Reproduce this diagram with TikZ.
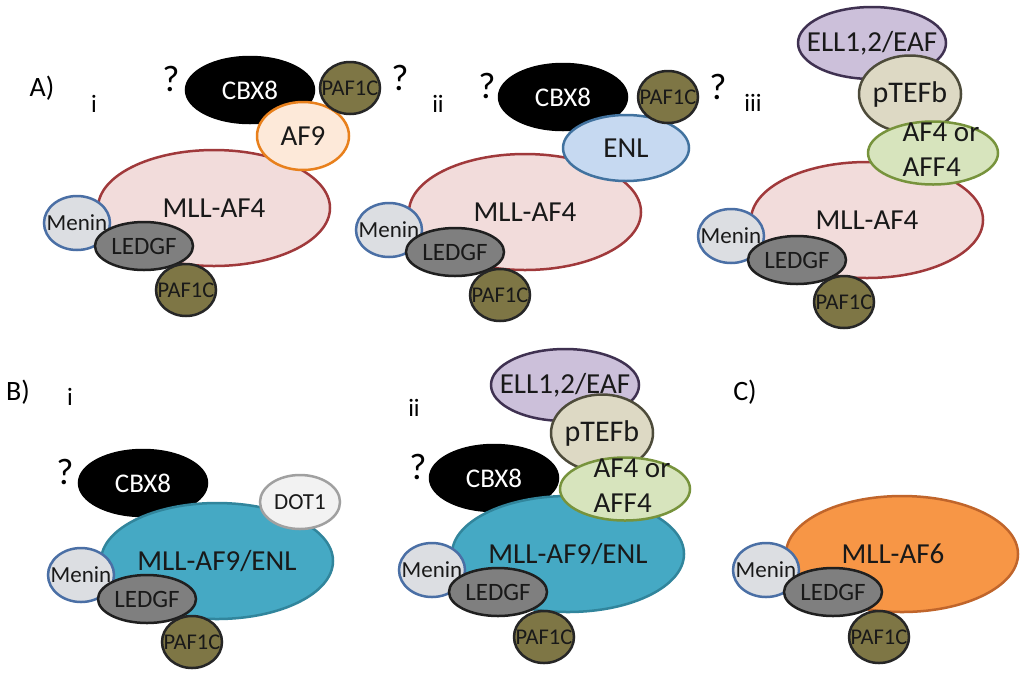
\documentclass[tikz,border=0pt]{standalone}
\usepackage{fontspec}
\setmainfont{Carlito}
\usetikzlibrary{shapes.geometric}
\definecolor{mllF}{HTML}{F2DCDB}\definecolor{mllD}{HTML}{A0393B}
\definecolor{afnF}{HTML}{FDE9D9}\definecolor{afnD}{HTML}{E8801C}
\definecolor{pafF}{HTML}{7E7645}\definecolor{pafD}{HTML}{262626}
\definecolor{menF}{HTML}{DCDEE2}\definecolor{menD}{HTML}{4A6FA5}
\definecolor{ledF}{HTML}{7F7F7F}\definecolor{ledD}{HTML}{1F1F1F}
\definecolor{enlF}{HTML}{C6D9F1}\definecolor{enlD}{HTML}{41729F}
\definecolor{ellF}{HTML}{CCC0DA}\definecolor{ellD}{HTML}{3F3151}
\definecolor{ptfF}{HTML}{DDD9C4}\definecolor{ptfD}{HTML}{4D4B3A}
\definecolor{affF}{HTML}{D7E4BD}\definecolor{affD}{HTML}{77933C}
\definecolor{dotF}{HTML}{F2F2F2}\definecolor{dotD}{HTML}{A0A0A0}
\definecolor{nineF}{HTML}{45A9C4}\definecolor{nineD}{HTML}{31859C}
\definecolor{sixF}{HTML}{F79646}\definecolor{sixD}{HTML}{C0652B}
\tikzset{
  mol/.style={ellipse, draw, line width=2.5pt, inner sep=-22pt, text=black!90,
    font=\fontsize{25}{25}\selectfont},
  big/.style={mol, minimum width=232pt, minimum height=116pt, font=\fontsize{29}{29}\selectfont},
  mllA/.style={big, fill=mllF, draw=mllD},
  mllB/.style={big, fill=nineF, draw=nineD},
  mllC/.style={big, fill=sixF, draw=sixD},
  cbx/.style={mol, fill=black, draw=black, text=white, minimum width=128pt, minimum height=66pt, font=\fontsize{27}{27}\selectfont},
  paf/.style={mol, fill=pafF, draw=pafD, minimum width=60pt, minimum height=52pt, font=\fontsize{22.5}{22.5}\selectfont},
  men/.style={mol, fill=menF, draw=menD, minimum width=66pt, minimum height=54pt, font=\fontsize{23}{23}\selectfont},
  led/.style={mol, fill=ledF, draw=ledD, minimum width=98pt, minimum height=48pt},
  af9/.style={mol, fill=afnF, draw=afnD, minimum width=92pt, minimum height=68pt, font=\fontsize{29}{29}\selectfont},
  enl/.style={mol, fill=enlF, draw=enlD, minimum width=126pt, minimum height=66pt, font=\fontsize{29}{29}\selectfont},
  ell/.style={mol, fill=ellF, draw=ellD, minimum width=148pt, minimum height=72pt, font=\fontsize{29}{29}\selectfont},
  ptf/.style={mol, fill=ptfF, draw=ptfD, minimum width=102pt, minimum height=77pt, font=\fontsize{30}{30}\selectfont},
  aff/.style={mol, fill=affF, draw=affD, minimum width=130pt, minimum height=63pt},
  afftxt/.style={align=left, inner sep=0pt, font=\fontsize{29}{35}\selectfont, text=black!90},
  dot/.style={mol, fill=dotF, draw=dotD, minimum width=80pt, minimum height=54pt, font=\fontsize{23}{23}\selectfont},
  qm/.style={inner sep=0pt, font=\fontsize{37}{37}\selectfont},
  panel/.style={inner sep=0pt, font=\fontsize{28}{28}\selectfont},
  roman/.style={inner sep=0pt, font=\fontsize{25}{25}\selectfont}
}
\begin{document}
\begin{tikzpicture}[x=1pt,y=-1pt]
\useasboundingbox[fill=white] (0,0) rectangle (1024,678);
% ---------- A i
\node[panel] (labA) at (42,88) {A)};
\node[roman] (ai) at (94,104) {i};
\node[mllA] (a1mll) at (214,208) {MLL-AF4};
\node[cbx] (a1cbx) at (250,90) {CBX8};
\node[af9] (a1af9) at (303,136) {AF9};
\node[paf] (a1paft) at (350,88) {PAF1C};
\node[qm] (a1q1) at (171,79) {?};
\node[qm] (a1q2) at (400,78) {?};
\node[men] (a1men) at (77,223) {Menin};
\node[led] (a1led) at (144,246) {LEDGF};
\node[paf] (a1paf) at (186,290) {PAF1C};
% ---------- A ii
\node[roman] (aii) at (438,104) {ii};
\node[mllA] (a2mll) at (525,212) {MLL-AF4};
\node[cbx] (a2cbx) at (563,97) {CBX8};
\node[enl] (a2enl) at (626,148) {ENL};
\node[paf] (a2paft) at (668,97) {PAF1C};
\node[qm] (a2q1) at (487,86) {?};
\node[qm] (a2q2) at (718,87) {?};
\node[men] (a2men) at (389,230) {Menin};
\node[led] (a2led) at (455,252) {LEDGF};
\node[paf] (a2paf) at (500,295) {PAF1C};
% ---------- A iii
\node[roman] (aiii) at (753,103) {iii};
\node[mllA] (a3mll) at (867,220) {MLL-AF4};
\node[ell] (a3ell) at (872,43) {ELL1,2/EAF};
\node[ptf] (a3ptf) at (910,94) {pTEFb};
\node[aff] (a3aff) at (933,153) {};
\node[afftxt] (a3afftxt) at ([xshift=8pt,yshift=3pt]a3aff.center) {AF4 or\\AFF4};
\node[men] (a3men) at (731,236) {Menin};
\node[led] (a3led) at (797,260) {LEDGF};
\node[paf] (a3paf) at (844,302) {PAF1C};
% ---------- B i
\node[panel] (labB) at (18,392) {B)};
\node[roman] (bi) at (70,397) {i};
\node[qm] (b1q) at (65,472) {?};
\node[cbx] (b1cbx) at (143,483) {CBX8};
\node[mllB] (b1mll) at (217,561) {MLL-AF9/ENL};
\node[dot] (b1dot) at (300,502) {DOT1};
\node[men] (b1men) at (81,575) {Menin};
\node[led] (b1led) at (147,599) {LEDGF};
\node[paf] (b1paf) at (192,642) {PAF1C};
% ---------- B ii
\node[roman] (bii) at (414,408) {ii};
\node[ell] (b2ell) at (565,385) {ELL1,2/EAF};
\node[ptf] (b2ptf) at (602,433) {pTEFb};
\node[qm] (b2q) at (418,467) {?};
\node[cbx] (b2cbx) at (494,478) {CBX8};
\node[mllB] (b2mll) at (568,554) {MLL-AF9/ENL};
\node[aff] (b2aff) at (625,489) {};
\node[afftxt] (b2afftxt) at ([xshift=7pt,yshift=3pt]b2aff.center) {AF4 or\\AFF4};
\node[men] (b2men) at (432,570) {Menin};
\node[led] (b2led) at (498,592) {LEDGF};
\node[paf] (b2paf) at (544,637) {PAF1C};
% ---------- C
\node[panel] (labC) at (745,392) {C)};
\node[mllC] (cmll) at (902,554) {\hspace*{-18pt}MLL-AF6};
\node[men] (cmen) at (766,570) {Menin};
\node[led] (cled) at (833,592) {LEDGF};
\node[paf] (cpaf) at (879,637) {PAF1C};
\end{tikzpicture}
\end{document}
